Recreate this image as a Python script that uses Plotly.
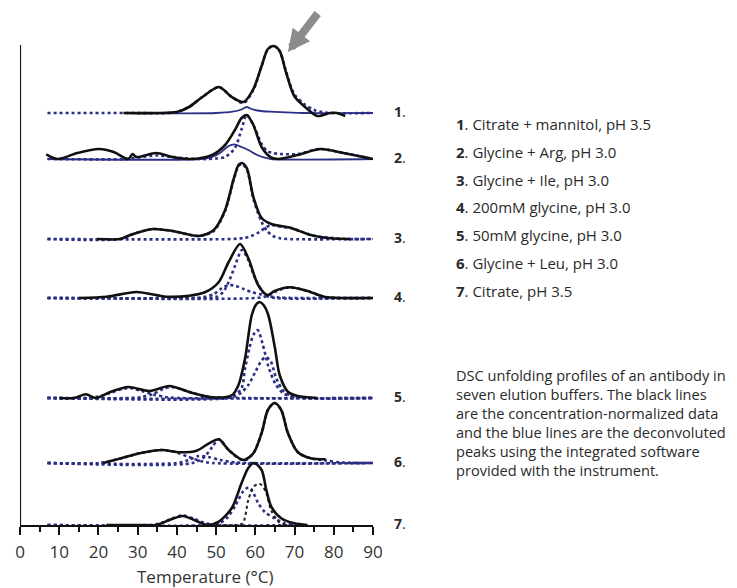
import plotly.graph_objects as go

# ---------------- data (temperature in °C, heat capacity in arbitrary units above each baseline) ----------------
x_tick_values = [0, 10, 20, 30, 40, 50, 60, 70, 80, 90]
sample_numbers = ["1", "2", "3", "4", "5", "6", "7"]
buffer_names = [
    "Citrate + mannitol, pH 3.5",
    "Glycine + Arg, pH 3.0",
    "Glycine + Ile, pH 3.0",
    "200mM glycine, pH 3.0",
    "50mM glycine, pH 3.0",
    "Glycine + Leu, pH 3.0",
    "Citrate, pH 3.5",
]
baseline_offsets = [412, 366, 286, 227, 127, 62, 0]

# 1. Citrate + mannitol
s1_black_t = [26.4, 35, 40, 43.1, 46.5, 50.7, 54, 57, 59.5, 61.6, 63.2, 64.7, 66.2, 67.8, 69.9, 72.4, 75.8, 79.1, 80.8, 82.9]
s1_black_h = [0, 0, 1, 6, 16, 26, 16, 11, 24, 47, 64, 67, 62, 41, 17, 7, -3, 0, 0, -3]
s1_fit_t = [7, 26.4, 38, 40, 43.1, 46.5, 50.7, 54, 57, 59.5, 61.6, 63.2, 64.7, 66.2, 67.8, 69.9, 72.4, 75, 77, 79, 90]
s1_fit_h = [0, 0, 0, 1, 6, 16, 26, 16, 10, 23, 47, 64, 67, 62, 42, 19, 9, 3, 1, 0, 0]
s1_comp_t = [26.4, 50, 54.2, 56.5, 57.8, 59, 61.5, 64, 68, 72, 90]
s1_comp_h = [0, 0, 1.3, 3.5, 6, 4, 2, 1.3, 0.7, 0, 0]

# 2. Glycine + Arg
s2_black_t = [6.7, 9.6, 14.6, 20.1, 23.9, 27.6, 28.7, 29.7, 34.7, 38.9, 44, 49, 52.3, 54.8, 56.5, 57.8, 59.5, 61.6, 64.1, 65.7, 70.8, 76.6, 82.5, 90]
s2_black_h = [4.7, 0, 6, 10, 7, 0, 5, 2, 6, 2, 0, 4, 14, 29, 41, 44, 34, 12, 1.3, 0, 4, 10, 6, 0]
s2_fit_t = [7, 27, 30, 35, 40, 45, 48, 50, 52.3, 54.8, 56.5, 57.8, 59.5, 61.6, 63, 64.5, 66.5, 70.8, 76.6, 82.5, 90]
s2_fit_h = [0, 0, 1.5, 3.5, 1.5, 0, 0, 0.5, 2, 11, 30, 44, 34, 15, 8, 6, 5, 5, 10, 6, 0]
s2_comp_t = [7, 46, 49, 51, 53.2, 54.6, 56.5, 58.2, 60.5, 62.4, 64, 90]
s2_comp_h = [0, 0, 2, 6, 13, 14.7, 12, 9, 4, 1.3, 0, 0]

# 3. Glycine + Ile
s3_black_t = [19.7, 25.6, 28.1, 33.9, 38.9, 45.6, 49.4, 52.3, 54.4, 55.7, 56.5, 57.8, 59.5, 61.6, 64.1, 69.1, 74.1, 79.1, 84.2]
s3_black_h = [0, 0, 4, 10, 8, 3, 9, 29, 59, 74, 76, 71, 42, 21, 15, 11, 4, 0.7, 0]
s3_fit_a_t = [7, 25.6, 28.1, 33.9, 38.9, 45.6, 49.4, 52.3, 54.4, 55.7, 56.5, 57.8, 59.5, 61.6, 63, 64.5, 66, 68, 90]
s3_fit_a_h = [0, 0, 4, 10, 8, 3, 8, 28, 58, 73, 75, 70, 40, 17, 8, 3, 1, 0, 0]
s3_fit_b_t = [7, 54, 57, 59, 61, 62.5, 64, 65.5, 67, 69.1, 72, 74.1, 77, 80, 83, 90]
s3_fit_b_h = [0, 0, 1, 3, 7, 11, 14, 13, 12, 11, 7, 4, 2, 1, 0, 0]

# 4. 200mM glycine
s4_black_t = [15.1, 22.2, 29.7, 37.3, 43.1, 47.3, 50.7, 53.2, 56.1, 58.2, 60.7, 63.1, 64.9, 68.7, 73.3, 77.5, 82, 90]
s4_black_h = [0, 1.3, 6, 1.3, 2.3, 6, 16, 36, 54, 40, 13, 3, 7, 10.7, 7, 1.3, 0, 0]
s4_fit_a_t = [7, 48, 50, 51.8, 53.2, 54.8, 56.6, 58.2, 59.5, 61.5, 63, 65, 90]
s4_fit_a_h = [0, 0, 1, 6, 16, 32, 48, 38, 24, 8, 2, 0, 0]
s4_fit_b_t = [7, 44, 47, 49.5, 51.5, 53.5, 55, 57, 59, 61, 63, 66, 70, 90]
s4_fit_b_h = [0, 0, 1, 4, 10, 13, 12, 9, 6, 4, 2, 0.5, 0, 0]
s4_fit_c_t = [7, 60, 63, 64.9, 68.7, 73.3, 77.5, 82, 90]
s4_fit_c_h = [0, 0, 2, 6, 10.7, 7, 1.3, 0, 0]

# 5. 50mM glycine
s5_black_t = [10.1, 13.8, 16.8, 19.3, 23, 27.6, 33.1, 38.1, 43.1, 49, 54.1, 55.7, 57.4, 59.1, 60.3, 61.1, 62.1, 63.3, 65, 66.2, 68.3, 70.8, 75.8]
s5_black_h = [0, 0, 3.7, 0, 6, 11, 7, 12, 6, 0.7, 3, 13, 40, 83, 94, 96, 93, 83, 50, 23, 6.3, 2, 0]
s5_fit_a_t = [7, 17, 20, 23, 26, 28, 31, 34, 37, 40, 90]
s5_fit_a_h = [0, 0, 1.5, 5, 9, 10, 7, 3.5, 1, 0, 0]
s5_fit_b_t = [7, 28, 31, 34, 36.5, 38.5, 41, 44, 47, 50, 90]
s5_fit_b_h = [0, 0, 1, 4, 9, 11, 9, 5, 2, 0.5, 0]
s5_fit_c_t = [7, 52, 54.5, 56.5, 57.4, 58.5, 59.5, 60.6, 61.8, 63.3, 65, 67, 70, 90]
s5_fit_c_h = [0, 0, 2, 10, 30, 50, 63, 68, 55, 32, 15, 5, 1, 0]
s5_fit_d_t = [7, 53, 56, 58.2, 60, 61.5, 62.7, 64, 65.3, 67.4, 70, 90]
s5_fit_d_h = [0, 0, 4, 13, 26, 37, 41, 36, 20, 6, 1, 0]

# 6. Glycine + Leu
s6_black_t = [21.2, 25.8, 30.8, 36.2, 40.8, 45, 48.2, 50.7, 53.2, 57, 59.5, 61.6, 63.2, 64.9, 66.6, 68.3, 70.8, 74.1, 77.9]
s6_black_h = [0, 4.7, 10, 13, 10.7, 12.3, 19.7, 23.7, 13, 3, 9.7, 30, 53, 60, 53, 30, 11, 4.7, 3.7]
s6_fit_a_t = [7, 20, 25.8, 30.8, 36.2, 40, 43, 46, 49, 90]
s6_fit_a_h = [0, 0, 4.7, 10, 13, 10.5, 6, 2, 0, 0]
s6_fit_b_t = [7, 40, 43, 45.5, 48, 51, 55, 90]
s6_fit_b_h = [0, 0, 3, 7, 6, 3, 0.5, 0]
s6_fit_c_t = [7, 44, 47, 49, 50.7, 53.2, 56, 57.5, 59.5, 61.6, 63.2, 64.9, 66.6, 68.3, 70.8, 74.1, 78, 82, 90]
s6_fit_c_h = [0, 0, 6, 16, 23.7, 13, 4, 3, 9.7, 30, 53, 60, 53, 30, 11, 4.7, 2.5, 0.5, 0]

# 7. Citrate
s7_black_t = [22, 30, 34.7, 38.1, 41.5, 44.8, 47.7, 50.7, 54, 56.5, 58.2, 59.7, 61.6, 62.8, 64.1, 66.6, 69.9, 73.3]
s7_black_h = [0, 0, 0, 5, 9, 4.3, 0, 3.3, 17, 42, 57, 62, 55, 35, 18, 6.7, 1.7, 0]
s7_fit_a_t = [7, 33, 36, 38.5, 41.5, 44.5, 47, 50, 72]
s7_fit_a_h = [0, 0, 2, 6, 9.5, 6, 2, 0, 0]
s7_fit_b_t = [7, 48, 51, 53, 55, 56.8, 58.3, 59.5, 60.7, 62.4, 64.9, 67.4, 70, 72]
s7_fit_b_h = [0, 0, 2, 8, 20, 33, 37.5, 32, 22, 13, 6.7, 1.7, 0, 0]
s7_peak_t = [50, 55, 56.8, 58.2, 59.5, 60.7, 61.6, 62.8, 64, 66, 68]
s7_peak_h = [0, 0, 1.7, 25, 38, 41, 40, 32, 15, 3, 0]

caption_lines = [
    "DSC unfolding profiles of an antibody in",
    "seven elution buffers. The black lines",
    "are the concentration-normalized data",
    "and the blue lines are the deconvoluted",
    "peaks using the integrated software",
    "provided with the instrument.",
]
x_title = "Temperature (°C)"

# ---------------- styling / layout ----------------
OFF = 8                      # the page body adds an 8 px margin; compensate
W, H = 737 - OFF, 588
PL, PR, PT, PB = 15 - OFF, 373 - OFF, 33 - OFF, 525 - OFF
BLUE = "#2b2f85"
BLACK = "#111111"
TEXT = "#2a2a2a"
FONT = "Open Sans"

fig = go.Figure()

def add_line(t, h, off, color, width, dash="solid"):
    fig.add_trace(go.Scatter(
        x=t, y=[v + off for v in h], mode="lines",
        line=dict(color=color, width=width, dash=dash, shape="spline", smoothing=0.8),
        hoverinfo="skip", showlegend=False))

series = [
    (s1_black_t, s1_black_h, [(s1_fit_t, s1_fit_h)], [(s1_comp_t, s1_comp_h)]),
    (s2_black_t, s2_black_h, [(s2_fit_t, s2_fit_h)], [(s2_comp_t, s2_comp_h)]),
    (s3_black_t, s3_black_h, [(s3_fit_a_t, s3_fit_a_h), (s3_fit_b_t, s3_fit_b_h)], []),
    (s4_black_t, s4_black_h, [(s4_fit_a_t, s4_fit_a_h), (s4_fit_b_t, s4_fit_b_h), (s4_fit_c_t, s4_fit_c_h)], []),
    (s5_black_t, s5_black_h, [(s5_fit_a_t, s5_fit_a_h), (s5_fit_b_t, s5_fit_b_h), (s5_fit_c_t, s5_fit_c_h), (s5_fit_d_t, s5_fit_d_h)], []),
    (s6_black_t, s6_black_h, [(s6_fit_a_t, s6_fit_a_h), (s6_fit_b_t, s6_fit_b_h), (s6_fit_c_t, s6_fit_c_h)], []),
    (s7_black_t, s7_black_h, [(s7_fit_a_t, s7_fit_a_h), (s7_fit_b_t, s7_fit_b_h)], []),
]

for i, (bt, bh, fits, comps) in enumerate(series):
    off = baseline_offsets[i]
    for ft, fh in fits:
        add_line(ft, fh, off, BLUE, 2.6, "dot")
    for ct, ch in comps:
        add_line(ct, ch, off, BLUE, 1.8)
    if i == 6:
        add_line(s7_peak_t, s7_peak_h, off, "#222222", 2.0, "dot")
    add_line(bt, bh, off, BLACK, 2.6)

def px_x(px):
    return (px - OFF - PL) / (PR - PL)

def px_y(py):
    return (PB - (py - OFF)) / (PB - PT)

ann = []
# row labels
for i, num in enumerate(sample_numbers):
    ann.append(dict(x=px_x(392), y=baseline_offsets[i], xref="paper", yref="y",
                    text=f"<b>{num}</b>.", showarrow=False, xanchor="left", yanchor="middle",
                    yshift=2, font=dict(family=FONT, size=14, color=TEXT)))
# legend list
for i, (num, name) in enumerate(zip(sample_numbers, buffer_names)):
    ann.append(dict(x=px_x(455), y=px_y(124.3 + 27.7 * i), xref="paper", yref="paper",
                    text=f"<b>{num}</b>. {name}", showarrow=False, xanchor="left", yanchor="middle",
                    font=dict(family=FONT, size=15, color=TEXT)))
# caption
for i, line in enumerate(caption_lines):
    ann.append(dict(x=px_x(455), y=px_y(375 + 19.0 * i), xref="paper", yref="paper",
                    text=line, showarrow=False, xanchor="left", yanchor="middle",
                    font=dict(family=FONT, size=14.6, color=TEXT)))
# axis title
ann.append(dict(x=px_x(203), y=px_y(576), xref="paper", yref="paper", text=x_title,
                showarrow=False, xanchor="center", yanchor="middle",
                font=dict(family=FONT, size=17, color="#333333")))
# grey arrow pointing at the main transition of sample 1
ann.append(dict(x=68.3, y=473, xref="x", yref="y", ax=31, ay=-40, text="",
                showarrow=True, arrowhead=2, arrowsize=0.55, arrowwidth=8, arrowcolor="#8c8c8c"))

fig.update_layout(
    width=W, height=H,
    margin=dict(l=PL, r=W - PR, t=PT, b=H - PB, pad=0),
    paper_bgcolor="white", plot_bgcolor="white",
    annotations=ann,
    shapes=[dict(type="line", xref="x", yref="y", x0=0, x1=0, y0=0, y1=480,
                 line=dict(color=BLACK, width=2.2), layer="below")],
    xaxis=dict(range=[0, 90], tickvals=x_tick_values, ticks="outside", ticklen=8, tickwidth=2,
               tickcolor=BLACK, showline=True, linecolor=BLACK, linewidth=2.2, showgrid=False,
               zeroline=False, layer="below traces", ticklabelstandoff=2,
               tickfont=dict(family=FONT, size=17, color="#333333"),
               minor=dict(dtick=5, ticks="outside", ticklen=5, tickwidth=2, tickcolor=BLACK, showgrid=False)),
    yaxis=dict(range=[0, PB - PT], showline=False, showgrid=False, zeroline=False,
               showticklabels=False, ticks=""),
)

fig.write_html("out.html")
